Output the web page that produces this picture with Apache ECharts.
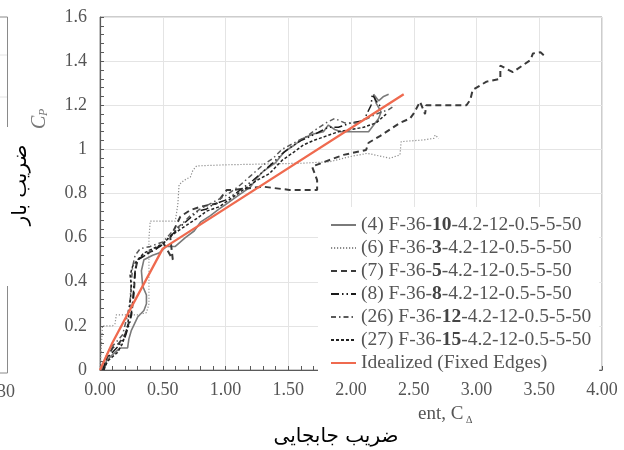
<!DOCTYPE html>
<html>
<head>
<meta charset="utf-8">
<script src="https://cdn.jsdelivr.net/npm/echarts@6/dist/echarts.min.js"></script>
<style>
  html, body { margin: 0; padding: 0; background: #fff; }
  #chart { width: 624px; height: 450px; }
</style>
</head>
<body>
<div id="chart"></div>
<script>
// Load coefficient C_P against displacement coefficient C_Δ for six specimens
const seriesNames = [
  '(4) F-36-10-4.2-12-0.5-5-50',
  '(6) F-36-3-4.2-12-0.5-5-50',
  '(7) F-36-5-4.2-12-0.5-5-50',
  '(8) F-36-8-4.2-12-0.5-5-50',
  '(26) F-36-12-4.2-12-0.5-5-50',
  '(27) F-36-15-4.2-12-0.5-5-50',
  'Idealized (Fixed Edges)'
];

const spec4 = [[0.03,0],[0.05,0.04],[0.1,0.07],[0.16,0.1],[0.22,0.1],[0.23,0.14],[0.25,0.18],[0.3,0.24],[0.35,0.27],[0.37,0.3],[0.37,0.34],[0.34,0.38],[0.33,0.45],[0.35,0.5],[0.42,0.52],[0.47,0.53],[0.53,0.56],[0.6,0.56],[0.68,0.6],[0.75,0.63],[0.8,0.67],[0.88,0.7],[0.95,0.73],[1.0,0.75],[1.1,0.79],[1.2,0.83],[1.25,0.87],[1.3,0.9],[1.4,0.94],[1.47,0.99],[1.55,1.02],[1.62,1.05],[1.7,1.07],[1.78,1.08],[1.82,1.11],[1.87,1.09],[1.92,1.08],[2.05,1.08],[2.14,1.08],[2.22,1.14],[2.24,1.17],[2.2,1.21],[2.18,1.25],[2.22,1.22],[2.26,1.24],[2.3,1.25]];

const spec6 = [[0,0],[0.01,0.1],[0.02,0.2],[0.1,0.2],[0.12,0.21],[0.13,0.25],[0.22,0.25],[0.3,0.25],[0.37,0.26],[0.39,0.3],[0.39,0.45],[0.39,0.6],[0.4,0.675],[0.5,0.675],[0.6,0.675],[0.62,0.75],[0.63,0.84],[0.67,0.86],[0.72,0.875],[0.74,0.905],[0.77,0.925],[1.0,0.93],[1.35,0.934],[1.6,0.937],[1.83,0.944],[1.99,0.967],[2.13,0.982],[2.31,0.96],[2.39,0.975],[2.4,1.035],[2.58,1.043],[2.66,1.05],[2.67,1.065],[2.7,1.05]];

const spec7 = [[0.03,0],[0.05,0.05],[0.1,0.1],[0.15,0.12],[0.2,0.16],[0.25,0.25],[0.27,0.35],[0.28,0.45],[0.3,0.5],[0.38,0.53],[0.45,0.55],[0.5,0.58],[0.56,0.52],[0.58,0.5],[0.56,0.6],[0.64,0.695],[0.72,0.725],[0.8,0.74],[0.93,0.755],[0.97,0.786],[1.01,0.816],[1.06,0.816],[1.3,0.831],[1.51,0.816],[1.73,0.816],[1.73,0.861],[1.69,0.922],[1.83,0.952],[1.94,0.975],[2.12,0.997],[2.14,1.03],[2.23,1.06],[2.39,1.12],[2.47,1.14],[2.5,1.163],[2.55,1.216],[2.59,1.16],[2.6,1.2],[2.75,1.2],[2.92,1.2],[2.95,1.224],[2.97,1.27],[3.08,1.307],[3.19,1.32],[3.19,1.38],[3.29,1.35],[3.43,1.405],[3.45,1.435],[3.51,1.44],[3.55,1.42]];

const spec8 = [[0.02,0],[0.05,0.05],[0.1,0.08],[0.15,0.11],[0.2,0.15],[0.24,0.22],[0.26,0.3],[0.27,0.38],[0.28,0.45],[0.3,0.5],[0.36,0.52],[0.42,0.54],[0.48,0.56],[0.55,0.6],[0.62,0.64],[0.7,0.68],[0.78,0.72],[0.85,0.73],[0.9,0.75],[1.0,0.77],[1.08,0.8],[1.15,0.83],[1.22,0.86],[1.3,0.9],[1.38,0.94],[1.45,0.98],[1.52,1.01],[1.6,1.04],[1.68,1.06],[1.75,1.08],[1.82,1.1],[1.9,1.1],[2.0,1.12],[2.1,1.13],[2.16,1.2],[2.17,1.25],[2.2,1.22],[2.24,1.19]];

const spec26 = [[0.01,0],[0.04,0.05],[0.08,0.1],[0.12,0.12],[0.18,0.16],[0.22,0.25],[0.24,0.32],[0.25,0.4],[0.26,0.47],[0.28,0.52],[0.32,0.55],[0.4,0.56],[0.5,0.58],[0.58,0.63],[0.65,0.66],[0.72,0.7],[0.8,0.73],[0.9,0.76],[1.0,0.79],[1.1,0.83],[1.2,0.88],[1.3,0.93],[1.38,0.96],[1.45,1.0],[1.55,1.03],[1.65,1.06],[1.72,1.09],[1.8,1.12],[1.87,1.14],[1.95,1.12],[2.05,1.12],[2.13,1.14],[2.2,1.16],[2.3,1.18],[2.35,1.2]];

const spec27 = [[0.03,0],[0.06,0.04],[0.1,0.06],[0.14,0.08],[0.18,0.12],[0.22,0.2],[0.24,0.3],[0.25,0.38],[0.24,0.43],[0.26,0.47],[0.3,0.5],[0.35,0.53],[0.42,0.55],[0.5,0.57],[0.55,0.6],[0.62,0.63],[0.7,0.66],[0.78,0.69],[0.85,0.72],[0.95,0.74],[1.05,0.78],[1.15,0.82],[1.25,0.86],[1.35,0.89],[1.45,0.95],[1.55,0.99],[1.62,1.02],[1.7,1.04],[1.8,1.06],[1.9,1.08],[2.0,1.09],[2.1,1.1],[2.2,1.12],[2.28,1.16]];

const idealized = [[0,0],[0.1,0.125],[0.25,0.285],[0.5,0.55],[2.42,1.25]];

const seriesData = [spec4, spec6, spec7, spec8, spec26, spec27, idealized];

const lineStyles = [
  { color: '#7a7a7a', width: 1.6, type: 'solid' },
  { color: '#8c8c8c', width: 1.2, type: [1.2, 1.8] },
  { color: '#3a3a3a', width: 2, type: [6, 4] },
  { color: '#1a1a1a', width: 1.5, type: [8, 3, 1.5, 3, 1.5, 3] },
  { color: '#5a5a5a', width: 1.5, type: [5, 3, 1.5, 3] },
  { color: '#222222', width: 1.5, type: [3, 2] },
  { color: '#ef6a4f', width: 2.3, type: 'solid' }
];

const serif = 'Liberation Serif';
const axisGrey = '#5a5a5a';

const chart = echarts.init(document.getElementById('chart'), null, { renderer: 'canvas' });

chart.setOption({
  animation: false,
  backgroundColor: '#fff',
  grid: {
    left: 100, top: 17, width: 502, height: 353,
    show: true, borderColor: '#9a9a9a', borderWidth: 1,
    containLabel: false, outerBoundsMode: 'none'
  },
  xAxis: {
    type: 'value', min: 0, max: 4, interval: 0.5,
    axisLine: { show: true, onZero: false, lineStyle: { color: axisGrey, width: 1.2 } },
    axisTick: { show: true, inside: true, length: 4, lineStyle: { color: axisGrey } },
    minorTick: { show: true, splitNumber: 5, length: 4, lineStyle: { color: axisGrey } },
    splitLine: { show: true, lineStyle: { color: '#e4e4e4', width: 1 } },
    axisLabel: { fontFamily: serif, fontSize: 18, color: '#555', margin: 11,
      formatter: v => v.toFixed(2) }
  },
  yAxis: {
    type: 'value', min: 0, max: 1.6, interval: 0.2,
    axisLine: { show: true, onZero: false, lineStyle: { color: axisGrey, width: 1.2 } },
    axisTick: { show: true, inside: true, length: 4, lineStyle: { color: axisGrey } },
    minorTick: { show: true, splitNumber: 5, length: 4, lineStyle: { color: axisGrey } },
    splitLine: { show: true, lineStyle: { color: '#e4e4e4', width: 1 } },
    axisLabel: { fontFamily: serif, fontSize: 18, color: '#555', margin: 13,
      formatter: v => String(+v.toFixed(1)) }
  },
  legend: {
    orient: 'vertical', left: 318, top: 207,
    padding: [8, 8, 7, 12],
    backgroundColor: '#fff',
    itemWidth: 25, itemHeight: 18, itemGap: 3,
    selectedMode: false,
    itemStyle: { opacity: 0 },
    data: seriesNames,
    textStyle: {
      fontFamily: serif, fontSize: 19.5, color: '#555', lineHeight: 18,
      rich: {
        n: { fontFamily: serif, fontSize: 19.5, color: '#555' },
        b: { fontFamily: serif, fontSize: 19.5, color: '#444', fontWeight: 'bold' }
      }
    },
    formatter: name => {
      const m = name.match(/^(\(\d+\) F-36-)(\d+)(-.*)$/);
      return m ? '{n|' + m[1] + '}{b|' + m[2] + '}{n|' + m[3] + '}' : '{n|' + name + '}';
    }
  },
  series: seriesNames.map((name, i) => ({
    name,
    type: 'line',
    data: seriesData[i],
    symbol: 'none',
    showSymbol: false,
    z: i === 6 ? 5 : 2,
    lineStyle: lineStyles[i],
    itemStyle: { color: lineStyles[i].color }
  })),
  graphic: [
    // edge of the neighbouring panel on the left
    { type: 'line', shape: { x1: 7.5, y1: 17, x2: 7.5, y2: 127 }, style: { stroke: '#8a8a8a', lineWidth: 1 } },
    { type: 'line', shape: { x1: 7.5, y1: 286, x2: 7.5, y2: 373 }, style: { stroke: '#8a8a8a', lineWidth: 1 } },
    { type: 'line', shape: { x1: 0, y1: 17, x2: 7.5, y2: 17 }, style: { stroke: '#8a8a8a', lineWidth: 1 } },
    { type: 'line', shape: { x1: 0, y1: 373, x2: 7.5, y2: 373 }, style: { stroke: '#8a8a8a', lineWidth: 1 } },
    { type: 'line', shape: { x1: 0, y1: 55, x2: 7, y2: 55 }, style: { stroke: '#e4e4e4', lineWidth: 1 } },
    { type: 'line', shape: { x1: 0, y1: 97, x2: 7, y2: 97 }, style: { stroke: '#e4e4e4', lineWidth: 1 } },
    { type: 'text', x: 15, y: 392, style: { text: '30', font: '18px "Liberation Serif"', fill: '#555', align: 'right', verticalAlign: 'middle' } },
    // y-axis symbol C_P
    {
      type: 'group', x: 40, y: 129, rotation: Math.PI / 2,
      children: [
        { type: 'text', x: 0, y: 0, style: { text: 'C', font: 'italic 20px "Liberation Serif"', fill: '#777', align: 'left', verticalAlign: 'middle' } },
        { type: 'text', x: 13, y: 4, style: { text: 'P', font: 'italic 12px "Liberation Serif"', fill: '#777', align: 'left', verticalAlign: 'middle' } }
      ]
    },
    // Persian y-axis title
    { type: 'text', x: 21, y: 185, rotation: Math.PI / 2, style: { text: 'ضریب بار', font: '20px "DejaVu Sans"', fill: '#000', align: 'center', verticalAlign: 'middle' } },
    // remnant of the English x-axis title
    { type: 'text', x: 418, y: 414, style: { text: 'ent, C', font: '19px "Liberation Serif"', fill: '#555', align: 'left', verticalAlign: 'middle' } },
    { type: 'text', x: 466, y: 420, style: { text: 'Δ', font: '10px "Liberation Serif"', fill: '#555', align: 'left', verticalAlign: 'middle' } },
    // Persian x-axis title
    { type: 'text', x: 336, y: 437, style: { text: 'ضریب جابجایی', font: '20px "DejaVu Sans"', fill: '#000', align: 'center', verticalAlign: 'middle' } }
  ]
});
</script>
</body>
</html>
